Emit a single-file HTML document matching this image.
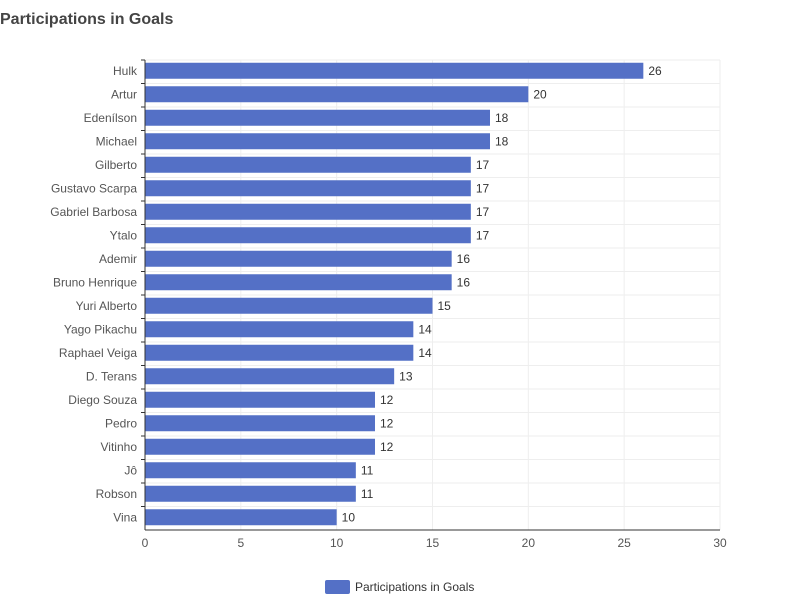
<!DOCTYPE html>
<html><head><meta charset="utf-8"><style>
body{margin:0;background:#fff;font-family:"Liberation Sans",Arial,sans-serif}
</style></head><body>
<svg width="800" height="600" xmlns="http://www.w3.org/2000/svg">
<text x="0" y="24" font-size="16" font-weight="bold" fill="#444">Participations in Goals</text>
<g id="grid"></g>
<g id="bars"></g>
<g id="axes"></g>
<rect x="325" y="580" width="25" height="14" rx="2" fill="#5470c6"/>
<text x="355" y="591" font-size="12" fill="#333">Participations in Goals</text>
</svg>
<script>
const categories=["Hulk","Artur","Edenílson","Michael","Gilberto","Gustavo Scarpa","Gabriel Barbosa","Ytalo","Ademir","Bruno Henrique","Yuri Alberto","Yago Pikachu","Raphael Veiga","D. Terans","Diego Souza","Pedro","Vitinho","Jô","Robson","Vina"];
const values=[26,20,18,18,17,17,17,17,16,16,15,14,14,13,12,12,12,11,11,10];
const xTicks=[0,5,10,15,20,25,30];
const NS="http://www.w3.org/2000/svg";
const L=145,R=720,T=60,B=530,XMAX=30;
const band=(B-T)/categories.length;
const x=v=>L+v/XMAX*(R-L);
const y=i=>T+i*band;
function mk(tag,attrs,parent,text){const e=document.createElementNS(NS,tag);for(const k in attrs)e.setAttribute(k,attrs[k]);if(text!==undefined)e.textContent=text;parent.appendChild(e);return e;}
const grid=document.getElementById('grid'),bars=document.getElementById('bars'),axes=document.getElementById('axes');
xTicks.forEach(t=>{
 const g=mk('line',{x1:x(t),x2:x(t),y1:T,y2:B,stroke:'#eee'},grid);
 
 
 const tl=mk('text',{x:x(t),y:B+17,'font-size':12,fill:'#555','text-anchor':'middle'},axes,String(t));
 
 
});
for(let i=0;i<=categories.length;i++){
 const g=mk('line',{x1:L,x2:R,y1:y(i),y2:y(i),stroke:'#eee'},grid);
 
 
}
categories.forEach((c,i)=>{
 const cy=y(i)+band/2-1;
 const b=mk('rect',{x:L,y:cy-8,width:x(values[i])-L,height:16,fill:'#5470c6'},bars);
 
 
 const v=mk('text',{x:x(values[i])+5,y:cy+4,'font-size':12,fill:'#333'},bars,String(values[i]));
 
 
 const l=mk('text',{x:L-8,y:cy+4,'font-size':12,fill:'#555','text-anchor':'end'},axes,c);
 
 
 const tk=mk('line',{x1:L-4,x2:L,y1:y(i),y2:y(i),stroke:'#333'},axes);
 
 
});
const ya=mk('line',{x1:L,x2:L,y1:T,y2:B,stroke:'#333'},axes);


const xa=mk('line',{x1:L,x2:R,y1:B,y2:B,stroke:'#333'},axes);


</script>
</body></html>
